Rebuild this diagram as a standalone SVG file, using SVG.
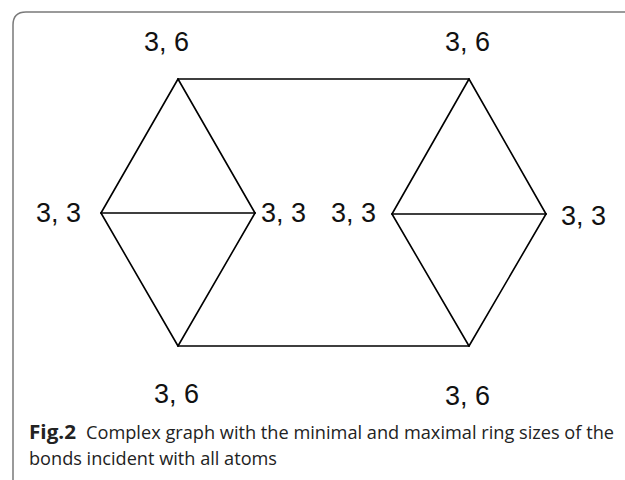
<svg xmlns="http://www.w3.org/2000/svg" width="625" height="480" viewBox="0 0 625 480">
<style>
.e{stroke:#000;stroke-width:1.6;fill:none;stroke-linecap:round}
.lbl{font-family:"Liberation Sans",Arial,sans-serif;font-size:27px;fill:#111}
.cap{font-family:"Open Sans","Noto Sans",sans-serif;font-size:19px;fill:#222}
</style>
<rect width="625" height="480" fill="#fff"/>
<path d="M13,482 V25 Q13,12 26,12 H626" fill="none" stroke="#7a7a7a" stroke-width="1.5"/>
<g id="connectors">
<line class="e" x1="178" y1="79" x2="469" y2="79"/>
<line class="e" x1="178" y1="346" x2="469" y2="346"/>
<line class="e" x1="178" y1="79" x2="101" y2="213"/>
<line class="e" x1="178" y1="79" x2="255" y2="213"/>
<line class="e" x1="101" y1="213" x2="255" y2="213"/>
<line class="e" x1="101" y1="213" x2="178" y2="346"/>
<line class="e" x1="255" y1="213" x2="178" y2="346"/>
<line class="e" x1="469" y1="79" x2="392" y2="214"/>
<line class="e" x1="469" y1="79" x2="546" y2="214"/>
<line class="e" x1="392" y1="214" x2="546" y2="214"/>
<line class="e" x1="392" y1="214" x2="469" y2="346"/>
<line class="e" x1="546" y1="214" x2="469" y2="346"/>
</g>
<g id="n_tl"><text class="lbl" x="144" y="51">3, 6</text></g>
<g id="n_tr"><text class="lbl" x="445" y="51">3, 6</text></g>
<g id="n_l"><text class="lbl" x="36" y="222">3, 3</text></g>
<g id="n_ml"><text class="lbl" x="261" y="222">3, 3</text></g>
<g id="n_mr"><text class="lbl" x="331" y="222">3, 3</text></g>
<g id="n_r"><text class="lbl" x="561" y="225">3, 3</text></g>
<g id="n_bl"><text class="lbl" x="154" y="403">3, 6</text></g>
<g id="n_br"><text class="lbl" x="445" y="405">3, 6</text></g>
<g id="caption">
<text class="cap" x="29" y="439" font-weight="bold" textLength="47" lengthAdjust="spacingAndGlyphs">Fig.2</text>
<text class="cap" x="86" y="439" textLength="528" lengthAdjust="spacingAndGlyphs">Complex graph with the minimal and maximal ring sizes of the</text>
<text class="cap" x="29" y="465" textLength="248" lengthAdjust="spacingAndGlyphs">bonds incident with all atoms</text>
</g>
</svg>
